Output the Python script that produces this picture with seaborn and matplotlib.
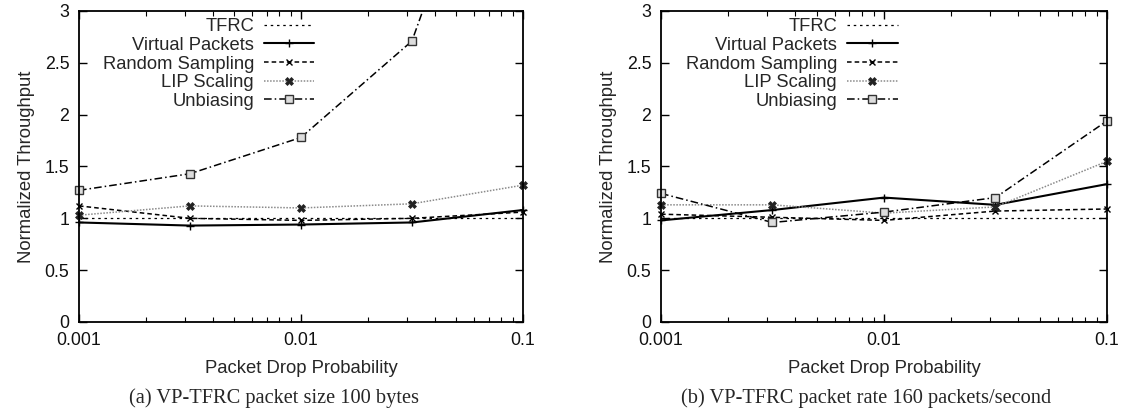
import numpy as np
import pandas as pd
import seaborn as sns
import matplotlib
matplotlib.use("Agg")
import matplotlib.pyplot as plt
from matplotlib.ticker import LogLocator, FixedLocator, FixedFormatter
from matplotlib.transforms import Bbox, TransformedBbox

# drop probabilities (half-decade steps)
drop_prob = [0.001, 0.00316, 0.01, 0.0316, 0.1]

# (a) packet size 100 bytes
a_tfrc = [1.0, 1.0, 1.0, 1.0, 1.0]
a_virtual = [0.96, 0.93, 0.94, 0.96, 1.08]
a_random = [1.12, 1.00, 0.98, 1.00, 1.06]
a_lip = [1.03, 1.12, 1.10, 1.14, 1.32]
a_unbias = [1.27, 1.43, 1.78, 2.71, 5.7]

# (b) packet rate 160 packets/second
b_tfrc = [1.0, 1.0, 1.0, 1.0, 1.0]
b_virtual = [0.98, 1.08, 1.20, 1.13, 1.33]
b_random = [1.04, 1.01, 0.98, 1.07, 1.09]
b_lip = [1.13, 1.13, 1.05, 1.11, 1.55]
b_unbias = [1.24, 0.96, 1.06, 1.20, 1.94]

labels = ["TFRC", "Virtual Packets", "Random Sampling", "LIP Scaling", "Unbiasing"]
captions = ["(a) VP-TFRC packet size 100 bytes",
            "(b) VP-TFRC packet rate 160 packets/second"]
caption_x = [0.2436, 0.770]

sns.set_style("ticks")
plt.rcParams['font.family'] = ['Liberation Sans', 'DejaVu Sans']

styles = [
    dict(color="black", linestyle=(0, (2, 3)), linewidth=0.9),
    dict(color="black", linestyle="-", linewidth=1.5, marker="+", markersize=6,
         markeredgewidth=1, markeredgecolor="black"),
    dict(color="black", linestyle=(0, (3, 2)), linewidth=1.1, marker="x", markersize=4.5,
         markeredgewidth=1, markeredgecolor="black"),
    dict(color="#8a8a8a", linestyle=(0, (1, 1)), linewidth=1.1, marker="X", markersize=5.5,
         markerfacecolor="#222222", markeredgecolor="#222222", markeredgewidth=0.5),
    dict(color="black", linestyle=(0, (5, 2, 1, 2)), linewidth=1.1, marker="s", markersize=5.5,
         markerfacecolor="#dddddd", markeredgecolor="#333333", markeredgewidth=1),
]

fig = plt.figure(figsize=(11.25, 4.16), dpi=100)
axes = [fig.add_axes([0.0702, 0.226, 0.3947, 0.7476]),
        fig.add_axes([0.5876, 0.226, 0.3964, 0.7476])]

panels = [[a_tfrc, a_virtual, a_random, a_lip, a_unbias],
          [b_tfrc, b_virtual, b_random, b_lip, b_unbias]]

for ax, series, cap, cx in zip(axes, panels, captions, caption_x):
    for lab, vals, st in zip(labels, series, styles):
        sns.lineplot(x=drop_prob, y=vals, ax=ax, label=lab, **st)
    # let edge markers show fully, but still clip at top/bottom
    clip = TransformedBbox(Bbox([[-0.03, -0.02], [1.03, 1.0]]), ax.transAxes)
    for ln in ax.get_lines():
        ln.set_clip_box(clip)
    ax.set_xscale("log")
    ax.set_xlim(0.001, 0.1)
    ax.set_ylim(0, 3)
    ax.xaxis.set_major_locator(FixedLocator([0.001, 0.01, 0.1]))
    ax.xaxis.set_major_formatter(FixedFormatter(["0.001", "0.01", "0.1"]))
    ax.xaxis.set_minor_locator(LogLocator(base=10, subs=np.arange(2, 10)))
    ax.xaxis.set_minor_formatter(plt.NullFormatter())
    ax.set_yticks([0, 0.5, 1, 1.5, 2, 2.5, 3])
    ax.set_yticklabels(["0", "0.5", "1", "1.5", "2", "2.5", "3"])
    ax.tick_params(which="both", direction="in", top=True, right=True,
                   labelsize=12.8, color="black", labelcolor="#111111")
    ax.tick_params(which="major", length=6, width=1, pad=7)
    ax.tick_params(which="minor", length=3.5, width=0.8)
    for sp in ax.spines.values():
        sp.set_linewidth(1.3)
        sp.set_color("black")
    ax.set_xlabel("Packet Drop Probability", fontsize=13.3, labelpad=8)
    ax.set_ylabel("Normalized Throughput", fontsize=13.3, labelpad=7)
    leg = ax.legend(loc="upper right", bbox_to_anchor=(0.555, 1.012), frameon=False,
                    markerfirst=False, fontsize=13.2, handlelength=2.75,
                    handletextpad=0.55, labelspacing=0.09, borderaxespad=0.2)
    for t in leg.get_texts():
        t.set_ha("right")
    fig.text(cx, 0.043, cap, ha="center", va="center",
             fontsize=14.7, family="Liberation Serif")

fig.savefig("out.png", dpi=100)
